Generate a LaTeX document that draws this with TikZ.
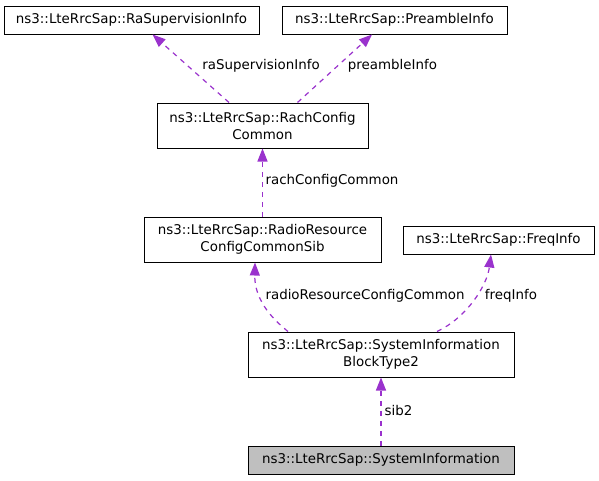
\documentclass[tikz,border=0pt]{standalone}
\usepackage{fontspec}
\setmainfont{DejaVu Sans}
\usetikzlibrary{arrows.meta}
\definecolor{edgecol}{HTML}{9A32CD}
\definecolor{fillgray}{HTML}{BFBFBF}
\begin{document}
\begin{tikzpicture}[x=1pt,y=-1pt,
  box/.style={draw=black, line width=1pt, fill=white, inner sep=0pt, align=center,
    font=\fontsize{13.4}{17}\selectfont},
  cur/.style={box, fill=fillgray},
  uses/.style={draw=edgecol, line width=1.2pt, dash pattern=on 5pt off 5pt,
    -{Triangle[length=13pt,width=10pt]}, edgecol},
  lbl/.style={inner sep=0pt, font=\fontsize{13.4}{17}\selectfont, text=black}]
\useasboundingbox (0,0) rectangle (599,480);
\fill[white] (0,0) rectangle (599,480);
\node[box, minimum width=255pt, minimum height=28pt] (rasup) at (131.5,20) {ns3::LteRrcSap::RaSupervisionInfo};
\node[box, minimum width=225pt, minimum height=28pt] (pre) at (394.5,20) {ns3::LteRrcSap::PreambleInfo};
\node[box, minimum width=211pt, minimum height=45pt] (rach) at (262.5,125.5) {ns3::LteRrcSap::RachConfig\\Common};
\node[box, minimum width=237pt, minimum height=45pt] (rrc) at (262.5,239.5) {ns3::LteRrcSap::RadioResource\\ConfigCommonSib};
\node[box, minimum width=191pt, minimum height=28pt] (freq) at (498.5,240) {ns3::LteRrcSap::FreqInfo};
\node[box, minimum width=266pt, minimum height=45pt] (sib2) at (381,354.5) {ns3::LteRrcSap::SystemInformation\\BlockType2};
\node[cur, minimum width=266pt, minimum height=28pt] (si) at (381,460) {ns3::LteRrcSap::SystemInformation};

\draw[uses] ([xshift=-33.5pt]rach.north) -- ([xshift=21pt]rasup.south);
\draw[uses] ([xshift=35pt]rach.north) -- ([xshift=-22.5pt]pre.south);
\draw[uses] (rrc.north) -- (rach.south);
\draw[uses] ([xshift=-93pt]sib2.north) .. controls ([xshift=-118pt,yshift=20pt]sib2.north) and ([xshift=-8pt,yshift=-30pt]rrc.south) .. ([xshift=-7.5pt]rrc.south);
\draw[uses] ([xshift=56pt]sib2.north) .. controls ([xshift=86pt,yshift=14pt]sib2.north) and ([xshift=-11.5pt,yshift=-31pt]freq.south) .. ([xshift=-7.5pt]freq.south);
\draw[uses] (si.north) -- (sib2.south);

\node[lbl] (l1) at (261,66) {raSupervisionInfo};
\node[lbl] (l2) at (392.5,66) {preambleInfo};
\node[lbl] (l3) at (332,181) {rachConfigCommon};
\node[lbl] (l4) at (365,296) {radioResourceConfigCommon};
\node[lbl] (l5) at (511,296) {freqInfo};
\node[lbl] (l6) at (398.5,410) {sib2};
\end{tikzpicture}
\end{document}
